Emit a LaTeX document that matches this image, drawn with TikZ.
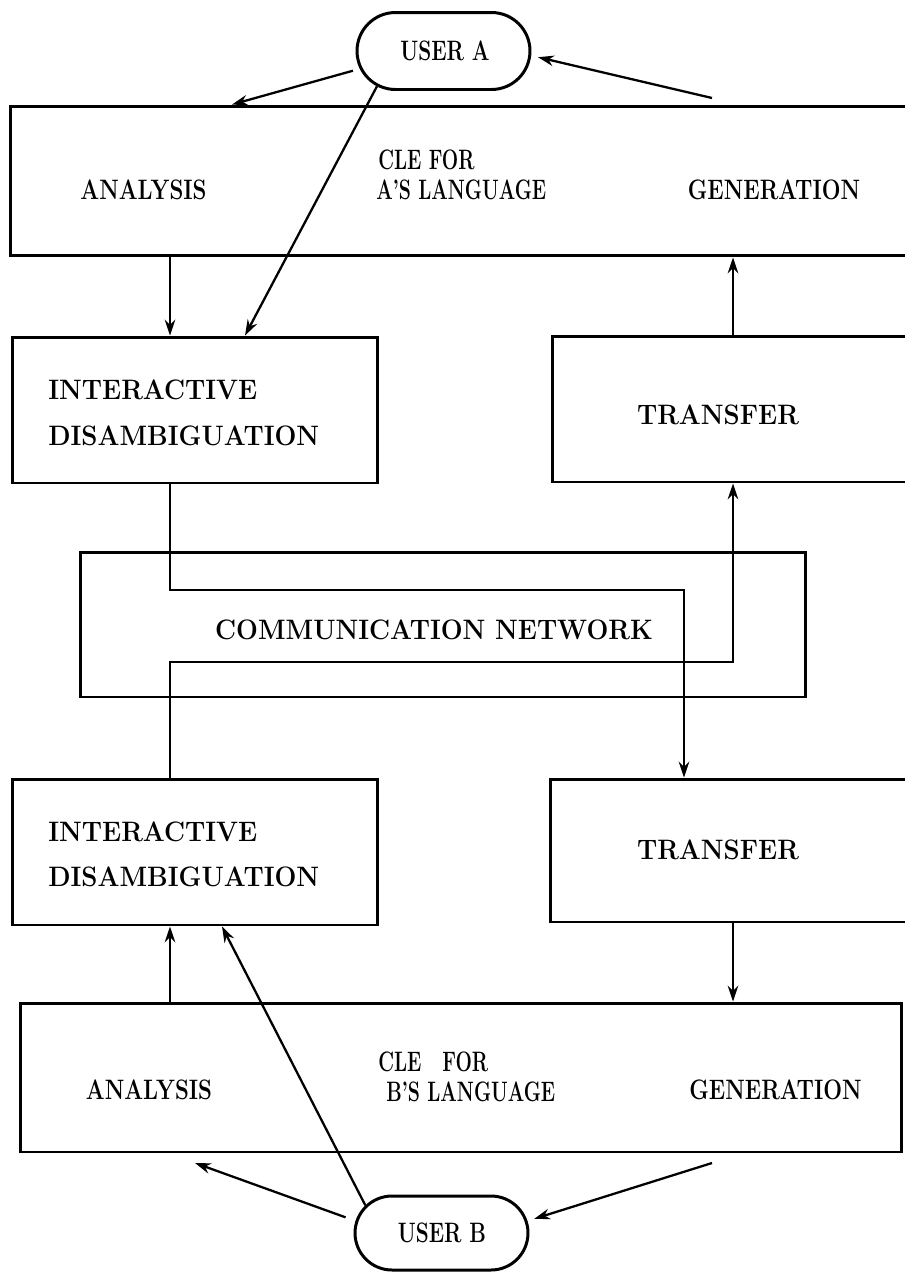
\documentclass[tikz,border=0pt]{standalone}
\usetikzlibrary{arrows.meta,shapes.misc}
\newcommand{\wide}[1]{\scalebox{0.92}[1]{#1}}
\newcommand{\narrow}[1]{\scalebox{0.79}[1]{#1}}
\newcommand{\slim}[1]{\scalebox{0.69}[1]{#1}}
\newcommand{\usr}[1]{\scalebox{0.74}[1]{#1}}
\begin{document}
\begin{tikzpicture}[x=0.02cm,y=-0.02cm,
  box/.style={draw,line width=1.7pt,inner sep=0pt},
  user/.style={draw,line width=1.7pt,rounded rectangle,inner sep=0pt,minimum width=3.46cm,minimum height=1.54cm},
  lbl/.style={font=\fontsize{16}{19}\selectfont\bfseries,inner sep=0pt},
  lblL/.style={lbl,anchor=west,align=left},
  conn/.style={line width=1.3pt},
  arr/.style={conn,-{Stealth[length=9pt,width=6pt]}}]
\useasboundingbox (0,0) rectangle (904,1272);
% boxes
\node[user] (userA) at (443.5,51) {};
\node[lbl] (tuA) at (445,51) {\usr{USER A}};
\node[box,minimum width=17.96cm,minimum height=3.0cm] (cle) at (459,181) {};
\node[box,minimum width=7.32cm,minimum height=2.92cm] (ia) at (195,410) {};
\node[box,minimum width=7.12cm,minimum height=2.92cm] (ta) at (730,409) {};
\node[box,minimum width=14.52cm,minimum height=2.9cm] (net) at (443,624.5) {};
\node[box,minimum width=7.32cm,minimum height=2.92cm] (ib) at (195,852) {};
\node[box,minimum width=7.16cm,minimum height=2.86cm] (tb) at (729,850.5) {};
\node[box,minimum width=17.64cm,minimum height=2.98cm] (clb) at (461,1077.5) {};
\node[user,minimum height=1.48cm] (userB) at (441.5,1233) {};
\node[lbl] (tuB) at (442,1233) {\usr{USER B}};
% texts
\node[lbl] (anA) at (143.5,190) {\narrow{ANALYSIS}};
\node[lblL] (cleA) at (378,160) {\slim{CLE FOR}};
\node[lblL] (langA) at (376,190) {\slim{A'S LANGUAGE}};
\node[lbl] (genA) at (774,190) {\narrow{GENERATION}};
\node[lblL] (iaT) at (48,390) {\wide{INTERACTIVE}};
\node[lblL] (iaB) at (48,436) {\wide{DISAMBIGUATION}};
\node[lbl] (taT) at (718,415) {\wide{TRANSFER}};
\node[lbl] (netT) at (434,630) {\wide{COMMUNICATION NETWORK}};
\node[lblL] (ibT) at (48,832) {\wide{INTERACTIVE}};
\node[lblL] (ibB) at (48,877) {\wide{DISAMBIGUATION}};
\node[lbl] (tbT) at (718,850) {\wide{TRANSFER}};
\node[lblL] (cleB) at (378,1062) {\slim{CLE\hspace{0.7em} FOR}};
\node[lblL] (langB) at (386,1092) {\slim{B'S LANGUAGE}};
\node[lbl] (anB) at (149,1090) {\narrow{ANALYSIS}};
\node[lbl] (genB) at (775.5,1090) {\narrow{GENERATION}};
% helper coordinates
\coordinate (xL) at (170,0);
\coordinate (xM) at (684,0);
\coordinate (xR) at (733,0);
\coordinate (y1) at (0,590);
\coordinate (y2) at (0,662);
\coordinate (a1e) at (232,0);
\coordinate (a3e) at (245,0);
\coordinate (a8e) at (222,0);
\coordinate (a2s) at (712,98);
\coordinate (a9e) at (195,1163);
\coordinate (a10s) at (712,1163);
% connectors
\draw[arr,shorten <=4pt] (userA.192) -- (cle.north -| a1e);
\draw[arr,shorten >=4pt] (a2s) -- (userA.357);
\draw[arr] (userA.208) -- (ia.north -| a3e);
\draw[arr] (cle.south -| xL) -- (ia.north -| xL);
\draw[arr] (ta.north -| xR) -- (cle.south -| xR);
\draw[arr] (ia.south -| xL) -- (xL |- y1) -- (xM |- y1) -- (tb.north -| xM);
\draw[arr] (ib.north -| xL) -- (xL |- y2) -- (xR |- y2) -- (ta.south -| xR);
\draw[arr] (tb.south -| xR) -- (clb.north -| xR);
\draw[arr] (clb.north -| xL) -- (ib.south -| xL);
\draw[arr] (userB.160) -- (ib.south -| a8e);
\draw[arr,shorten <=6pt] (userB.172) -- (a9e);
\draw[arr,shorten >=4pt] (a10s) -- (userB.8);
\end{tikzpicture}
\end{document}
